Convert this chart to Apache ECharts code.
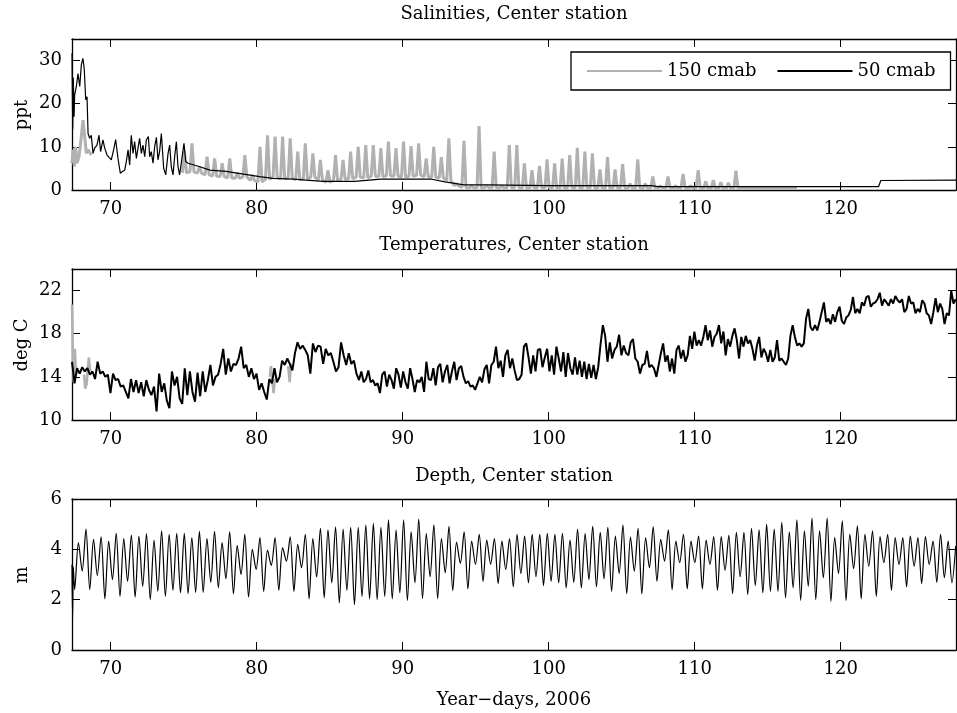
<!DOCTYPE html>
<html lang="en">
<head>
<meta charset="UTF-8">
<title>Center station</title>
<script src="https://cdn.jsdelivr.net/npm/echarts@6.0.0/dist/echarts.min.js"></script>
<style>
  html, body { margin: 0; padding: 0; background: #fff; }
  #chart { width: 957px; height: 713px; }
</style>
</head>
<body>
<div id="chart"></div>
<script>
// ---- axis ticks ----
const xTicks = [70, 80, 90, 100, 110, 120];
const salTicks = [0, 10, 20, 30];
const tempTicks = [10, 14, 18, 22];
const depthTicks = [0, 2, 4, 6];
const dayMin = 67.35, dayMax = 127.9;

// ---- salinity, 50 cmab (black): year-day / ppt ----
const sal50Day = [67.35, 67.40, 67.44, 67.49, 67.53, 67.65, 67.76, 67.88, 67.99, 68.10,
  68.19, 68.29, 68.38, 68.45, 68.56, 68.67, 68.79, 68.90, 69.06, 69.20,
  69.31, 69.47, 69.59, 69.75, 69.88, 70.04, 70.20, 70.34, 70.50, 70.66,
  70.80, 70.96, 71.07, 71.19, 71.30, 71.41, 71.53, 71.64, 71.76, 71.87,
  71.98, 72.10, 72.21, 72.33, 72.44, 72.58, 72.67, 72.78, 72.90, 73.01,
  73.13, 73.24, 73.35, 73.47, 73.63, 73.77, 73.93, 74.04, 74.15, 74.27,
  74.38, 74.50, 74.61, 74.72, 74.91, 75.02, 75.14, 75.30, 76.10, 76.80,
  77.90, 79.10, 80.20, 81.10, 82.50, 84.50, 86.70, 88.50, 90.00, 92.00,
  92.90, 94.20, 95.80, 100.0, 107.0, 107.5, 122.6, 122.7, 122.75, 127.9];
const sal50 = [31.7, 14.0, 26.0, 17.0, 22.0, 24.0, 27.0, 24.0, 29.0, 30.5,
  28.0, 20.9, 21.6, 13.1, 12.0, 12.7, 8.5, 9.7, 10.4, 12.7,
  8.9, 11.6, 9.7, 8.1, 8.5, 7.0, 9.3, 11.7, 7.3, 3.9,
  4.3, 4.6, 6.6, 9.3, 5.8, 12.7, 8.5, 11.2, 7.3, 9.7,
  12.0, 8.5, 10.4, 7.7, 11.6, 12.4, 7.7, 8.9, 6.2, 10.0,
  12.2, 7.0, 8.9, 13.1, 5.0, 3.5, 8.5, 10.4, 5.4, 3.5,
  7.7, 11.2, 5.4, 3.5, 8.1, 10.8, 6.6, 6.2, 5.4, 4.6,
  4.3, 3.7, 3.1, 2.7, 2.5, 2.0, 2.0, 2.5, 2.55, 2.5,
  1.9, 1.2, 1.2, 1.0, 1.0, 0.8, 0.8, 0.4, 2.2, 2.3];

// ---- salinity, 150 cmab (grey) ----
const sal150EarlyDay = [67.35, 67.42, 67.51, 67.60, 67.69, 67.83, 67.99, 68.10, 68.22, 68.33, 68.45, 68.67];
const sal150Early = [6.2, 9.3, 5.4, 10.0, 6.2, 7.7, 12.4, 16.2, 12.4, 8.5, 9.3, 8.1];
// one spike per tidal cycle from day 75.05
const sal150CycleStart = 75.05;
const tidePeriod = 0.5175;
const sal150Peak = [9.0, 10.8, 5.5, 7.7, 7.3, 6.2, 7.3, 4.0, 8.1, 3.5,
  10.0, 12.7, 12.4, 12.4, 12.0, 8.9, 10.8, 8.5, 7.0, 4.6,
  8.1, 7.0, 8.9, 10.0, 10.4, 10.4, 9.7, 11.2, 9.7, 11.2,
  10.2, 10.8, 7.3, 10.0, 7.6, 12.0, 1.5, 11.4, 1.0, 14.8,
  1.0, 8.9, 1.0, 10.4, 10.4, 6.2, 4.6, 5.6, 7.1, 6.2,
  7.3, 8.1, 9.8, 8.9, 8.5, 4.8, 7.6, 4.8, 6.0, 1.5,
  7.1, 1.5, 3.1, 1.0, 3.1, 1.0, 3.7, 1.0, 4.6, 2.0,
  2.3, 1.8, 1.7, 4.5];
const sal150Low = [4.0, 4.2, 3.9, 3.5, 3.2, 3.1, 2.8, 2.7, 3.0, 2.2,
  1.9, 2.5, 3.0, 2.6, 2.8, 2.4, 2.6, 3.0, 2.3, 1.8,
  2.2, 2.5, 2.6, 3.0, 2.8, 3.2, 3.1, 3.3, 3.2, 3.0,
  3.2, 3.4, 3.1, 3.0, 2.8, 2.2, 1.0, 0.6, 0.5, 0.5,
  0.6, 0.5, 0.5, 0.6, 0.6, 0.5, 0.5, 0.6, 0.5, 0.5,
  0.5, 0.6, 0.5, 0.5, 0.6, 0.5, 0.5, 0.5, 0.6, 0.5,
  0.5, 0.5, 0.5, 0.5, 0.5, 0.4, 0.5, 0.4, 0.5, 0.4,
  0.4, 0.4, 0.4, 0.4];
const sal150TailDay = [113.2, 117.0];
const sal150Tail = [0.5, 0.5];

// ---- temperature, 50 cmab (black), three evenly read stretches ----
const temp50aRange = [67.35, 87.01];
const temp50a = [15.4, 13.4, 14.8, 14.3, 14.9, 14.5, 14.8, 14.2, 14.5, 13.8,
  15.4, 14.3, 14.5, 14.0, 14.2, 12.5, 14.3, 13.7, 13.8, 13.1,
  13.2, 12.6, 12.0, 13.8, 12.6, 13.7, 12.5, 13.5, 12.2, 13.7,
  12.8, 12.3, 13.1, 10.8, 14.3, 12.6, 13.4, 11.8, 11.1, 14.5,
  13.2, 14.0, 12.0, 11.5, 14.8, 12.3, 14.5, 12.6, 11.7, 14.4,
  12.2, 14.5, 12.6, 13.7, 15.1, 13.2, 14.0, 14.2, 15.2, 16.6,
  14.2, 15.7, 14.5, 15.2, 15.1, 15.7, 16.8, 14.8, 15.1, 14.0,
  14.8, 13.8, 14.3, 12.8, 13.4, 12.6, 11.9, 13.8, 13.4, 14.8,
  13.5, 14.0, 15.5, 15.1, 15.7, 15.2, 14.6, 16.2, 17.2, 16.6,
  16.9, 16.5, 16.0, 14.3, 17.1, 16.3, 16.9, 16.8, 15.2, 16.6,
  16.0, 16.2, 15.4, 14.5, 14.9, 17.2, 16.0, 15.1, 16.2, 15.2,
  15.5, 14.3, 13.7];
const temp50bRange = [87.17, 107.21];
const temp50b = [14.5, 13.5, 13.8, 14.6, 13.5, 13.7, 13.2, 13.4, 12.5, 14.2,
  14.5, 13.1, 14.2, 13.7, 12.9, 14.8, 14.2, 13.0, 14.5, 13.5,
  12.9, 14.8, 13.8, 12.6, 13.7, 13.5, 14.0, 12.6, 15.4, 13.8,
  13.7, 14.8, 13.2, 14.9, 15.2, 13.5, 14.5, 15.1, 13.4, 14.5,
  15.4, 13.7, 14.8, 15.0, 14.0, 13.4, 13.6, 13.1, 13.2, 12.8,
  13.4, 14.0, 13.5, 14.7, 15.1, 13.4, 15.1, 15.4, 16.8, 14.8,
  15.5, 14.0, 16.0, 16.5, 14.8, 15.7, 14.6, 13.7, 13.8, 14.2,
  16.8, 17.1, 15.8, 14.3, 16.0, 14.5, 16.5, 16.6, 14.9, 15.8,
  16.6, 14.5, 16.0, 14.2, 16.8, 15.7, 14.5, 16.3, 14.0, 16.2,
  14.8, 14.2, 15.8, 14.2, 15.5, 14.0, 15.4, 13.8, 15.2, 13.9,
  15.1, 13.8, 14.9, 17.0, 18.8, 17.8, 15.4, 17.2, 15.7, 16.5,
  16.8, 17.9, 16.0, 16.9, 16.2, 16.0, 17.2, 17.5, 15.7, 15.4,
  14.3, 15.1, 15.2, 16.4, 14.9, 15.1, 14.8];
const temp50cRange = [107.38, 127.88];
const temp50c = [14.0, 15.1, 16.2, 17.1, 15.4, 16.0, 14.5, 15.7, 14.3, 16.5,
  16.9, 15.7, 16.5, 15.4, 16.0, 17.8, 16.6, 18.2, 16.9, 17.4,
  16.9, 17.7, 18.8, 17.4, 18.3, 16.8, 17.7, 18.0, 18.8, 17.1,
  18.2, 16.0, 17.5, 16.8, 17.8, 18.5, 17.4, 15.7, 17.7, 16.8,
  17.8, 17.1, 17.4, 16.6, 15.5, 16.9, 17.7, 15.8, 16.6, 16.2,
  15.4, 16.5, 15.4, 15.8, 17.4, 15.5, 15.7, 15.4, 15.1, 15.7,
  17.8, 18.8, 17.7, 16.9, 17.1, 16.8, 17.1, 19.4, 20.3, 18.6,
  18.3, 18.8, 18.3, 19.1, 20.0, 20.9, 19.1, 19.4, 18.9, 19.8,
  19.1, 20.0, 20.5, 19.2, 18.9, 19.5, 19.7, 20.2, 21.4, 19.9,
  20.3, 19.9, 20.9, 20.6, 21.4, 21.5, 20.5, 20.8, 20.9, 21.2,
  21.8, 20.6, 21.2, 20.9, 20.6, 21.2, 20.8, 21.5, 21.1, 20.9,
  21.2, 20.0, 20.3, 21.5, 20.8, 20.9, 19.9, 20.3, 20.0, 21.1,
  20.8, 19.9, 19.7, 18.9, 20.0, 21.3, 20.0, 20.8, 20.3, 18.9,
  19.9, 19.7, 22.0, 20.8, 21.2];
// temperature 150 cmab (grey): only where it shows beside the black record
const temp150Day = [67.35, 67.42, 67.47, 67.55, 67.62, 67.70, null,
  68.18, 68.25, 68.35, 68.50, 68.60, null,
  80.90, 80.98, 81.08, 81.16, 81.25, null,
  82.15, 82.26, 82.35];
const temp150 = [20.7, 15.0, 13.5, 16.6, 14.3, 14.6, null,
  14.2, 12.9, 13.3, 15.8, 14.5, null,
  14.0, 15.0, 13.5, 12.5, 13.8, null,
  15.0, 13.5, 15.2];

// ---- depth (m): start glitch, then one reading per half tide ----
const depthLeadDay = [67.35, 67.39, 67.44];
const depthLead = [3.4, 1.25, 3.3];
const depthRange = [67.53, 127.88];
const depth = [2.4, 4.27, 3.13, 4.8, 2.4, 4.4, 2.96, 4.5, 2.03, 4.33,
  2.8, 4.64, 2.13, 4.43, 2.73, 4.57, 2.1, 4.53, 2.53, 4.63,
  2.0, 4.37, 2.33, 4.73, 2.13, 4.6, 2.37, 4.64, 2.27, 4.64,
  2.24, 4.47, 2.29, 4.71, 2.29, 4.43, 2.69, 4.71, 2.47, 4.27,
  2.83, 4.69, 2.23, 4.16, 3.0, 4.6, 2.1, 4.0, 3.2, 4.47,
  2.33, 3.97, 3.36, 4.47, 2.37, 4.07, 3.53, 4.5, 2.33, 4.2,
  3.27, 4.6, 2.03, 4.43, 2.9, 4.83, 2.07, 4.77, 2.67, 4.89,
  1.87, 4.8, 2.37, 4.87, 1.8, 4.87,
  2.13, 4.96, 2.03, 5.03, 2.0, 4.87, 2.13, 5.17, 2.03, 4.76,
  2.27, 5.17, 1.97, 4.69, 2.67, 5.2, 2.04, 4.63, 2.91, 4.97,
  2.04, 4.43, 3.07, 4.91, 2.36, 4.29, 3.44, 4.69, 2.43, 4.33,
  3.4, 4.6, 2.73, 4.37, 3.4, 4.43, 2.64, 4.33, 3.2, 4.43,
  2.51, 4.6, 3.04, 4.53, 2.67, 4.6, 2.91, 4.6, 2.56, 4.64,
  2.73, 4.6, 2.67, 4.64, 2.47, 4.37, 2.69, 4.8, 2.47, 4.63,
  2.8, 4.91, 2.51, 4.67, 2.83, 4.87, 2.33, 4.53, 3.04, 4.96,
  2.24, 4.49, 3.13, 4.83, 2.23, 4.47, 3.27, 4.89,
  2.73, 4.4, 3.53, 4.77, 2.4, 4.33, 3.47, 4.6, 2.43, 4.33,
  3.47, 4.53, 2.43, 4.37, 3.4, 4.51, 2.37, 4.51, 3.17, 4.56,
  2.24, 4.67, 2.91, 4.67, 2.2, 4.83, 2.56, 4.77, 2.27, 5.0,
  2.33, 4.8, 2.33, 5.07, 2.07, 4.69, 2.47, 5.17, 1.97, 4.73,
  2.53, 5.24, 2.0, 4.73, 2.87, 5.24, 1.93, 4.47, 3.04, 5.13,
  1.97, 4.6, 3.23, 4.93, 2.03, 4.6, 3.33, 4.73, 2.13, 4.51,
  3.47, 4.6, 2.37, 4.47, 3.4, 4.47, 2.51, 4.53, 3.33, 4.47,
  2.64, 4.51, 3.4, 4.33, 2.69, 4.6, 2.87, 4.33, 2.67, 4.13];

// ---- build point lists ----
function zip(days, vals) {
  return days.map((d, i) => (d === null ? null : [d, vals[i]]));
}
function spread(range, vals) {
  const step = (range[1] - range[0]) / (vals.length - 1);
  return vals.map((v, i) => [range[0] + i * step, v]);
}

const sal150Pts = zip(sal150EarlyDay, sal150Early);
sal150Pts.push(null);
sal150Peak.forEach((p, i) => {
  const c = sal150CycleStart + i * tidePeriod;
  sal150Pts.push([c - 0.14, sal150Low[i]], [c, p], [c + 0.14, sal150Low[i]]);
});
zip(sal150TailDay, sal150Tail).forEach(p => sal150Pts.push(p));

const temp50Pts = spread(temp50aRange, temp50a)
  .concat(spread(temp50bRange, temp50b), spread(temp50cRange, temp50c));
const depthPts = zip(depthLeadDay, depthLead).concat(spread(depthRange, depth));

// ---- chart ----
const FONT = "'DejaVu Serif', serif";
const GREY = '#b1b1b1';
const tops = [39, 269, 499];
const yRanges = [[0, 35, salTicks], [10, 24, tempTicks], [0, 6, depthTicks]];

const axisLine = { onZero: false, lineStyle: { color: '#000', width: 1.3 } };
const grids = [], xAxes = [], yAxes = [];
tops.forEach((t, i) => {
  grids.push({ left: 72, width: 884, top: t, height: 151 });
  ['bottom', 'top'].forEach(pos => {
    xAxes.push({
      type: 'value', gridIndex: i, position: pos, min: dayMin, max: dayMax,
      axisLine: axisLine, splitLine: { show: false },
      axisTick: { inside: true, length: 8, customValues: xTicks, lineStyle: { color: '#000' } },
      axisLabel: {
        show: pos === 'bottom', customValues: xTicks, margin: 10,
        color: '#000', fontFamily: FONT, fontSize: 18
      }
    });
  });
  const r = yRanges[i];
  ['left', 'right'].forEach(pos => {
    yAxes.push({
      type: 'value', gridIndex: i, position: pos, min: r[0], max: r[1],
      axisLine: axisLine, splitLine: { show: false },
      axisTick: { inside: true, length: 8, customValues: r[2], lineStyle: { color: '#000' } },
      axisLabel: {
        show: pos === 'left', customValues: r[2], margin: 10,
        color: '#000', fontFamily: FONT, fontSize: 18
      }
    });
  });
});

function line(name, grid, data, color, width, extra) {
  return Object.assign({
    name: name, type: 'line', xAxisIndex: grid * 2, yAxisIndex: grid * 2,
    data: data, showSymbol: false, symbol: 'none', connectNulls: false,
    lineStyle: { color: color, width: width }, itemStyle: { color: color },
    emphasis: { disabled: true }
  }, extra || {});
}

function label(text, x, y, rot) {
  return {
    type: 'text', x: x, y: y, rotation: rot || 0,
    style: { text: text, font: '18px ' + FONT, fill: '#000', align: 'center', verticalAlign: 'middle' }
  };
}

const option = {
  animation: false,
  backgroundColor: '#fff',
  grid: grids,
  xAxis: xAxes,
  yAxis: yAxes,
  legend: {
    data: ['150 cmab', '50 cmab'],
    left: 571, top: 52,
    padding: [10, 15, 10, 15],
    itemWidth: 75, itemHeight: 14, itemGap: 20,
    itemStyle: { opacity: 0, borderWidth: 0 },
    borderColor: '#000', borderWidth: 1.3, backgroundColor: '#fff',
    textStyle: { fontFamily: FONT, fontSize: 18, color: '#000' }
  },
  series: [
    line('150 cmab', 0, sal150Pts, GREY, 3),
    line('50 cmab', 0, zip(sal50Day, sal50), '#000', 1.2),
    line('150 cmab', 1, zip(temp150Day, temp150), GREY, 2.5),
    line('50 cmab', 1, temp50Pts, '#000', 2),
    line('depth', 2, depthPts, '#000', 1.2, { smooth: 0.3 })
  ],
  graphic: [
    label('Salinities, Center station', 514, 14),
    label('Temperatures, Center station', 514, 245),
    label('Depth, Center station', 514, 476),
    label('Year\u2212days, 2006', 514, 700),
    label('ppt', 22, 115, Math.PI / 2),
    label('deg C', 22, 345, Math.PI / 2),
    label('m', 22, 575, Math.PI / 2)
  ]
};

const chart = echarts.init(document.getElementById('chart'));
chart.setOption(option);
</script>
</body>
</html>
